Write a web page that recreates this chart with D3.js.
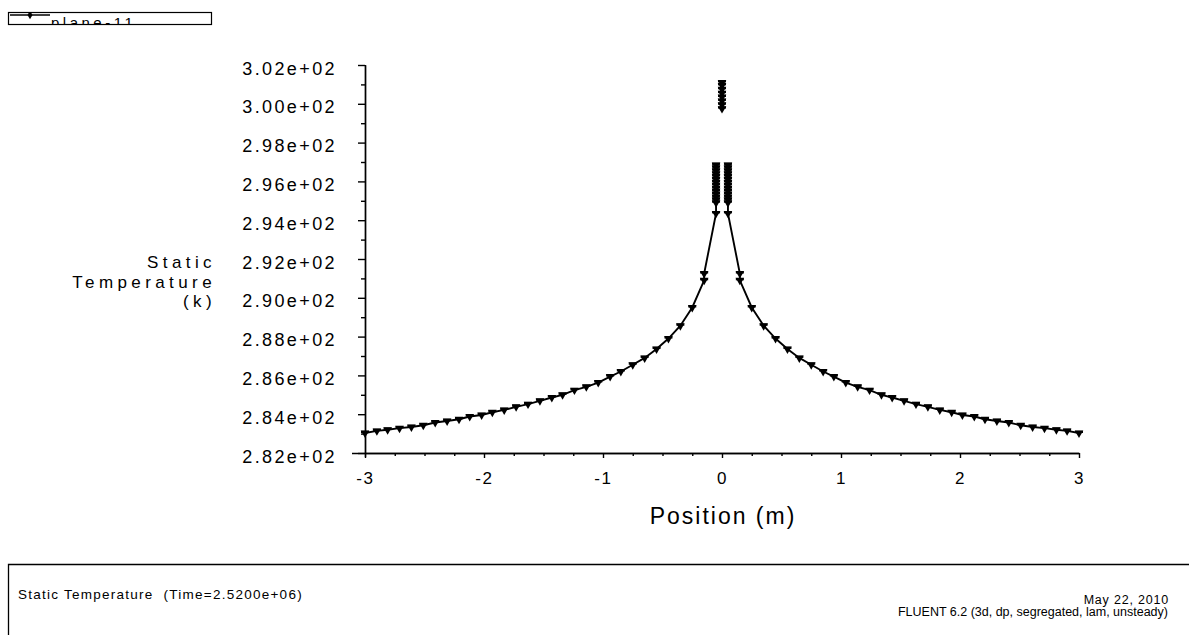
<!DOCTYPE html>
<html>
<head>
<meta charset="utf-8">
<script src="https://cdn.jsdelivr.net/npm/d3@7"></script>
<style>
  html, body { margin: 0; padding: 0; background: #fff; }
  svg { display: block; font-family: "Liberation Sans", Arial, sans-serif; }
  text { white-space: pre; }
</style>
</head>
<body>
<svg id="chart" width="1189" height="635"></svg>
<script>
// ---------------- DATA ----------------
const seriesName = "plane-11";
// right branch of the profile (x > 0); the left branch is its mirror image
const branchX = [0.05,0.05,0.05,0.05,0.05,0.05,0.05,0.05,0.05,0.05,0.05,0.05,0.05,0.05,0.05,
  0.15,0.15,0.25,0.35,0.45,0.55,0.65,0.75,0.85,0.94,1.04,1.14,1.24,1.34,1.43,1.53,1.63,1.73,
  1.83,1.93,2.02,2.12,2.21,2.31,2.41,2.51,2.61,2.71,2.81,2.90,3.00];
const branchT = [296.85,296.70,296.55,296.40,296.25,296.10,295.95,295.80,295.65,295.50,295.35,295.20,295.05,294.90,294.35,
  291.25,290.90,289.50,288.56,287.90,287.36,286.90,286.55,286.20,285.94,285.63,285.41,285.24,285.00,284.86,284.69,284.52,284.38,
  284.22,284.10,283.96,283.88,283.74,283.65,283.57,283.43,283.34,283.28,283.20,283.14,283.03];
// isolated stack of points at x = 0
const centerX = [0,0,0,0,0,0,0,0];
const centerT = [299.75,299.95,300.15,300.35,300.55,300.75,300.95,301.10];

const xTicks = [-3,-2,-1,0,1,2,3];
const xTickLabels = ["-3","-2","-1","0","1","2","3"];
const yTicks = [282,284,286,288,290,292,294,296,298,300,302];
const yTickLabels = ["2.82e+02","2.84e+02","2.86e+02","2.88e+02","2.90e+02","2.92e+02",
  "2.94e+02","2.96e+02","2.98e+02","3.00e+02","3.02e+02"];
const yTitle = ["Static","Temperature","(k)"];
const xTitle = "Position (m)";
const footerLeft = "Static Temperature  (Time=2.5200e+06)";
const footerRight = ["May 22, 2010","FLUENT 6.2 (3d, dp, segregated, lam, unsteady)"];

// ---------------- CHART ----------------
const svg = d3.select("#chart");
const x = d3.scaleLinear().domain([-3, 3]).range([365, 1079]);
const y = d3.scaleLinear().domain([282, 302]).range([453, 65]);

const leftBranch = branchX.map((d, i) => ({x: -d, t: branchT[i]})).reverse();
const rightBranch = branchX.map((d, i) => ({x: d, t: branchT[i]}));
const center = centerX.map((d, i) => ({x: d, t: centerT[i]}));

// axes
const yAxis = d3.axisLeft(y).tickValues(yTicks).tickSize(7).tickSizeOuter(0)
  .tickPadding(21).tickFormat((d, i) => yTickLabels[i]);
const yMinor = d3.axisLeft(y).tickValues(d3.range(283, 302, 2)).tickSize(4).tickFormat("").tickSizeOuter(0);
const xAxis = d3.axisBottom(x).tickValues(xTicks).tickSize(5).tickSizeOuter(0)
  .tickPadding(14).tickFormat((d, i) => xTickLabels[i]);
const xMinor = d3.axisBottom(x).tickValues(d3.range(-2.75, 3, 0.25).filter(v => Math.abs(v - Math.round(v)) > 1e-6))
  .tickSize(3).tickFormat("").tickSizeOuter(0);

function styleAxis(g) {
  g.selectAll("path").attr("stroke", "#000").attr("stroke-width", 1.4);
  g.selectAll("line").attr("stroke", "#000").attr("stroke-width", 1.4);
  g.selectAll("text").attr("fill", "#000").attr("font-size", 17).attr("letter-spacing", 1.8);
}
const gy = svg.append("g").attr("transform", `translate(${x(-3)},0)`).call(yAxis).call(styleAxis);
gy.selectAll(".tick text").attr("dy", "0.5em").attr("font-size", 18).attr("letter-spacing", 2.4);
svg.append("g").attr("transform", `translate(${x(-3)},0)`).call(yMinor).call(styleAxis);
const gx = svg.append("g").attr("transform", `translate(0,${y(282)})`).call(xAxis).call(styleAxis);
svg.append("g").attr("transform", `translate(0,${y(282)})`).call(xMinor).call(styleAxis);
gx.select(".domain").attr("d", `M${x(-3) - 13},0.5H${x(3)}`);
gy.select(".domain").attr("d", `M0.5,${y(282) + 4}V${y(302)}`);

// axis titles
const yt = svg.append("text").attr("text-anchor", "end").attr("font-size", 17)
  .attr("letter-spacing", 4.4).attr("fill", "#000");
yTitle.forEach((s, i) => yt.append("tspan").attr("x", 216).attr("y", 268 + i * 19.5).text(s));
svg.append("text").attr("x", (x(-3) + x(3)) / 2 + 1).attr("y", 524).attr("text-anchor", "middle")
  .attr("font-size", 23).attr("letter-spacing", 2).attr("fill", "#000").text(xTitle);

// lines
const line = d3.line().x(d => x(d.x)).y(d => y(d.t));
[leftBranch, rightBranch].forEach(b => {
  svg.append("path").datum(b).attr("d", line).attr("fill", "none")
    .attr("stroke", "#000").attr("stroke-width", 1.9);
});

// markers
const sym = d3.symbol().type(d3.symbolTriangle).size(32);
const pts = leftBranch.concat(rightBranch, center);
svg.append("g").selectAll("path").data(pts).join("path")
  .attr("d", sym)
  .attr("transform", d => `translate(${x(d.x)},${y(d.t)}) rotate(180)`)
  .attr("fill", "#000");
svg.append("g").selectAll("rect").data(pts).join("rect")
  .attr("x", d => x(d.x) - 4).attr("y", d => y(d.t) - 2.2).attr("width", 8).attr("height", 2.2)
  .attr("fill", "#000");

// legend (text clipped by box, as in reference)
const defs = svg.append("defs");
defs.append("clipPath").attr("id", "legclip").append("rect")
  .attr("x", 8).attr("y", 12).attr("width", 204).attr("height", 12);
svg.append("rect").attr("x", 8.5).attr("y", 12.5).attr("width", 203).attr("height", 12)
  .attr("fill", "none").attr("stroke", "#000").attr("stroke-width", 1.2);
const lg = svg.append("g").attr("clip-path", "url(#legclip)");
lg.append("line").attr("x1", 10).attr("x2", 50).attr("y1", 15).attr("y2", 15)
  .attr("stroke", "#000").attr("stroke-width", 1.4);
lg.append("path").attr("d", d3.symbol().type(d3.symbolDiamond).size(22))
  .attr("transform", "translate(30,15)").attr("fill", "#000");
lg.append("text").attr("x", 51).attr("y", 28).attr("font-size", 15).attr("letter-spacing", 3.5)
  .attr("fill", "#000").text(seriesName);

// footer box
svg.append("path").attr("d", "M8.5,640V564.5H1189").attr("fill", "none")
  .attr("stroke", "#000").attr("stroke-width", 1.3);
svg.append("text").attr("x", 18).attr("y", 599).attr("font-size", 13.5).attr("letter-spacing", 1.25)
  .attr("fill", "#000").text(footerLeft);
svg.append("text").attr("x", 1169).attr("y", 604).attr("text-anchor", "end").attr("font-size", 12.5)
  .attr("letter-spacing", 0.8).attr("fill", "#000").text(footerRight[0]);
svg.append("text").attr("x", 1168).attr("y", 616).attr("text-anchor", "end").attr("font-size", 12.5)
  .attr("letter-spacing", 0).attr("fill", "#000").text(footerRight[1]);
</script>
</body>
</html>
